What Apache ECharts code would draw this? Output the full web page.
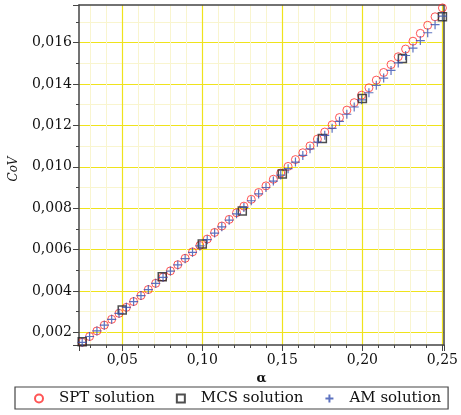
<!DOCTYPE html>
<html><head><meta charset="utf-8">
<script src="https://cdn.jsdelivr.net/npm/echarts@6/dist/echarts.min.js"></script>
<style>html,body{margin:0;padding:0;background:#fff}#c{width:461px;height:415px}</style>
</head><body><div id="c"></div>
<script>
// alpha sample positions (SPT / AM)
const alpha = [0.0250,0.0296,0.0342,0.0388,0.0434,0.0480,0.0526,0.0571,0.0617,0.0663,
  0.0709,0.0755,0.0801,0.0847,0.0893,0.0939,0.0985,0.1031,0.1077,0.1122,
  0.1168,0.1214,0.1260,0.1306,0.1352,0.1398,0.1444,0.1490,0.1536,0.1582,
  0.1628,0.1673,0.1719,0.1765,0.1811,0.1857,0.1903,0.1949,0.1995,0.2041,
  0.2087,0.2133,0.2179,0.2224,0.2270,0.2316,0.2362,0.2408,0.2454,0.2500];
const covSPT = [0.00152,0.00180,0.00207,0.00235,0.00263,0.00292,0.00321,0.00349,0.00378,0.00407,
  0.00437,0.00467,0.00497,0.00527,0.00558,0.00589,0.00620,0.00651,0.00683,0.00714,
  0.00746,0.00778,0.00810,0.00843,0.00876,0.00908,0.00940,0.00970,0.01002,0.01035,
  0.01068,0.01101,0.01134,0.01168,0.01203,0.01238,0.01274,0.01310,0.01346,0.01382,
  0.01419,0.01456,0.01494,0.01532,0.01569,0.01607,0.01645,0.01684,0.01725,0.01768];
const covAM = [0.00152,0.00180,0.00207,0.00235,0.00263,0.00292,0.00321,0.00349,0.00378,0.00407,
  0.00437,0.00466,0.00496,0.00526,0.00556,0.00587,0.00618,0.00648,0.00680,0.00710,
  0.00742,0.00773,0.00804,0.00836,0.00869,0.00900,0.00931,0.00960,0.00991,0.01023,
  0.01055,0.01087,0.01119,0.01152,0.01186,0.01220,0.01254,0.01289,0.01324,0.01358,
  0.01394,0.01429,0.01466,0.01502,0.01538,0.01574,0.01610,0.01648,0.01687,0.01728];
const alphaMCS = [0.025,0.05,0.075,0.10,0.125,0.15,0.175,0.20,0.225,0.25];
const covMCS = [0.00155,0.00308,0.00469,0.00627,0.00787,0.00965,0.01137,0.01330,0.01524,0.01725];

const xTickValues = [0.05,0.10,0.15,0.20,0.25];
const xTickLabels = ['0,05','0,10','0,15','0,20','0,25'];
const yTickValues = [0.002,0.004,0.006,0.008,0.010,0.012,0.014,0.016];
const yTickLabels = ['0,002','0,004','0,006','0,008','0,010','0,012','0,014','0,016'];
const seriesNames = ['SPT solution','MCS solution','AM solution'];

function lookup(vals, labels){
  return function(v){
    for (let i=0;i<vals.length;i++){ if (Math.abs(v-vals[i])<1e-9) return labels[i]; }
    return '';
  };
}
const FONT = 'DejaVu Serif';
const AX = '#444';
const MAJOR = '#efe31c', MINOR = '#f9f5cf';
const chart = echarts.init(document.getElementById('c'), null, {renderer:'canvas'});
const frameAxis = {
  type:'value', axisLine:{show:true, onZero:false, lineStyle:{color:AX, width:1.5}},
  axisTick:{show:false}, axisLabel:{show:false}, splitLine:{show:false}
};
chart.setOption({
  animation:false,
  backgroundColor:'#fff',
  grid:{left:77, right:11, top:5, bottom:70, containLabel:false},
  legend:{
    left:15, top:387, orient:'horizontal', itemWidth:8, itemHeight:8, itemGap:21,
    padding:[4,7,3,19], borderColor:AX, borderWidth:1.2,
    textStyle:{fontFamily:FONT, fontSize:15, color:'#111', padding:[0,0,0,11]},
    data:seriesNames
  },
  xAxis:[{
    type:'value', position:'bottom', min:0.023, max:0.251, splitNumber:5,
    minInterval:0.05, maxInterval:0.05,
    axisLine:{show:true, onZero:false, lineStyle:{color:AX, width:1.5}},
    axisTick:{show:true, inside:false, length:6, lineStyle:{color:AX, width:1}},
    minorTick:{show:true, splitNumber:5, length:3, lineStyle:{color:AX, width:1}},
    splitLine:{show:true, showMinLine:false, showMaxLine:false, lineStyle:{color:MAJOR, width:1.2}},
    minorSplitLine:{show:true, lineStyle:{color:MINOR, width:1}},
    axisLabel:{margin:8, fontFamily:FONT, fontSize:14, color:'#111', showMinLabel:false, showMaxLabel:false, formatter:lookup(xTickValues, xTickLabels)},
    name:'α', nameLocation:'middle', nameGap:27,
    nameTextStyle:{fontFamily:FONT, fontSize:13, fontWeight:'bold', color:'#111'}
  }, Object.assign({position:'top', min:0.023, max:0.251}, frameAxis)],
  yAxis:[{
    type:'value', position:'left', min:0.00139, max:0.01782, splitNumber:8,
    minInterval:0.002, maxInterval:0.002,
    axisLine:{show:true, onZero:false, lineStyle:{color:AX, width:1.5}},
    axisTick:{show:true, inside:false, length:6, lineStyle:{color:AX, width:1}},
    minorTick:{show:true, splitNumber:2, length:3, lineStyle:{color:AX, width:1}},
    splitLine:{show:true, showMinLine:false, showMaxLine:false, lineStyle:{color:MAJOR, width:1.2}},
    minorSplitLine:{show:true, lineStyle:{color:MINOR, width:1}},
    axisLabel:{margin:7, fontFamily:FONT, fontSize:14, color:'#111', showMinLabel:false, showMaxLabel:false, formatter:lookup(yTickValues, yTickLabels)},
    name:'CoV', nameLocation:'middle', nameGap:59,
    nameTextStyle:{fontFamily:FONT, fontSize:12, fontStyle:'italic', color:'#111', padding:[0,0,0,12]}
  }, Object.assign({position:'right', min:0.00139, max:0.01782}, frameAxis)],
  series:[
    {name:seriesNames[0], type:'scatter', xAxisIndex:0, yAxisIndex:0,
     data:alpha.map((a,i)=>[a, covSPT[i]]), symbol:'circle', symbolSize:8,
     itemStyle:{color:'rgba(255,255,255,0)', borderColor:'#ff2a2a', borderWidth:1},
     emphasis:{disabled:true}},
    {name:seriesNames[1], type:'scatter', xAxisIndex:0, yAxisIndex:0,
     data:alphaMCS.map((a,i)=>[a, covMCS[i]]), symbol:'rect', symbolSize:8,
     itemStyle:{color:'rgba(255,255,255,0)', borderColor:'#222', borderWidth:1.5},
     emphasis:{disabled:true}},
    {name:seriesNames[2], type:'scatter', xAxisIndex:0, yAxisIndex:0,
     data:alpha.map((a,i)=>[a, covAM[i]]), symbol:'path://M5,0L5,10M0,5L10,5', symbolSize:9,
     itemStyle:{color:'rgba(255,255,255,0)', borderColor:'#3550b0', borderWidth:1.2},
     emphasis:{disabled:true}}
  ]
});
</script></body></html>
